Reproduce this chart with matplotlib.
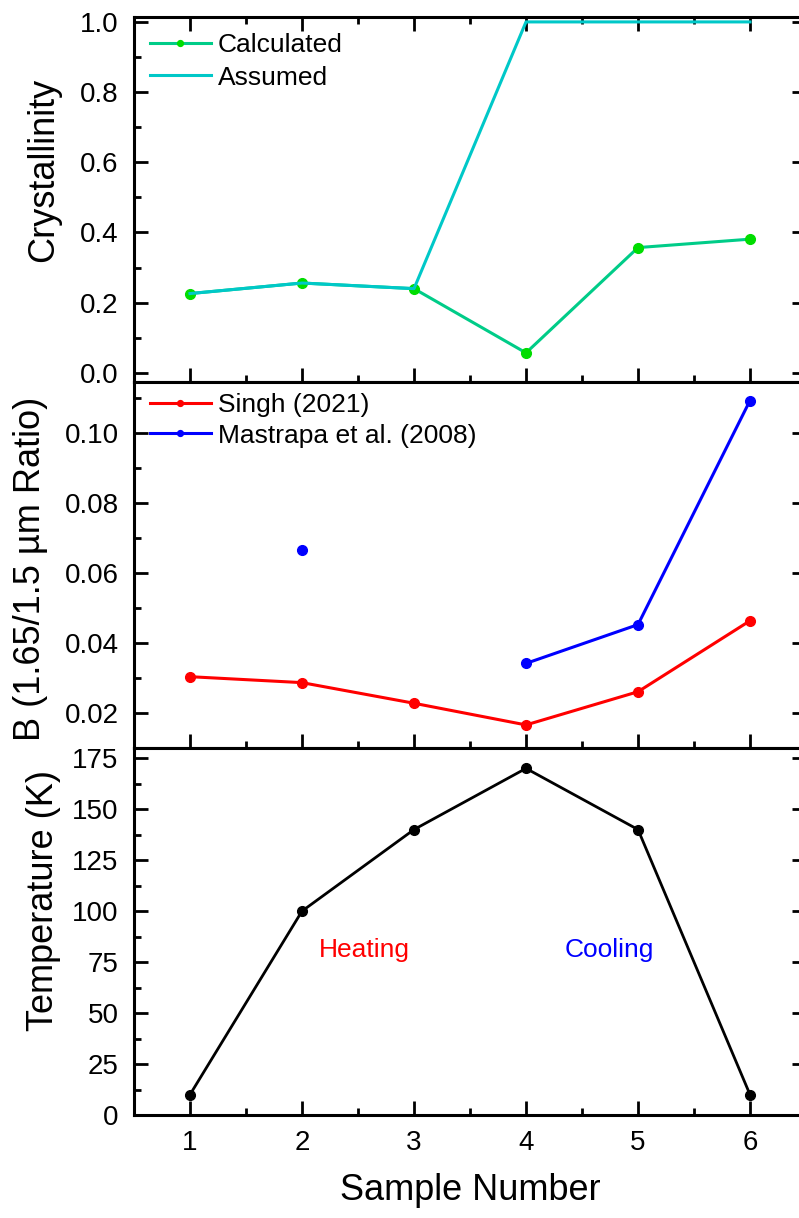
import numpy as np
import matplotlib.pyplot as plt
from matplotlib.ticker import MultipleLocator

plt.rcParams['font.family'] = ['Liberation Sans', 'DejaVu Sans']

# sample numbers shared by all three panels
samples = [1, 2, 3, 4, 5, 6]

# crystallinity
calculated = [0.226, 0.256, 0.240, 0.057, 0.357, 0.381]
assumed = [0.226, 0.256, 0.240, 1.0, 1.0, 1.0]

# band depth ratio B
singh_2021 = [0.0304, 0.0287, 0.0228, 0.0166, 0.0261, 0.0464]
mastrapa_2008 = [np.nan, 0.0666, np.nan, 0.0342, 0.0453, 0.1094]

# sample temperature
temperature = [10, 100, 140, 170, 140, 10]

fig = plt.figure(figsize=(7.99, 12.18), dpi=100)
W = 672 / 799
ax1 = fig.add_axes([134 / 799, 1 - 382 / 1218, W, 365 / 1218])
ax2 = fig.add_axes([134 / 799, 1 - 748 / 1218, W, 366 / 1218])
ax3 = fig.add_axes([134 / 799, 1 - 1115 / 1218, W, 367 / 1218])

lw = 2.2
ms = 7

# top: crystallinity
ax1.plot(samples, calculated, '-', color='#00CC88', lw=lw, marker='o', ms=ms,
         mfc='#00DD00', mec='#00DD00', label='Calculated')
ax1.plot(samples, assumed, '-', color='#00C8C8', lw=lw, label='Assumed')
ax1.set_ylim(-0.026, 1.014)
ax1.yaxis.set_major_locator(MultipleLocator(0.2))
ax1.yaxis.set_minor_locator(MultipleLocator(0.1))
ax1.set_ylabel('Crystallinity', fontsize=26)
ax1.legend(loc='upper left', bbox_to_anchor=(16 / 672, 1 - 16 / 365), frameon=False,
           fontsize=19, borderpad=0, borderaxespad=0, handlelength=2.3,
           handletextpad=0.27, labelspacing=0.33, markerscale=0.6)

# middle: B ratio
ax2.plot(samples, singh_2021, '-', color='#FF0000', lw=lw, marker='o', ms=ms,
         mfc='#FF0000', mec='#FF0000', label='Singh (2021)')
ax2.plot(samples, mastrapa_2008, '-', color='#0000FF', lw=lw, marker='o', ms=ms,
         mfc='#0000FF', mec='#0000FF', label='Mastrapa et al. (2008)')
ax2.set_ylim(0.01, 0.1147)
ax2.yaxis.set_major_locator(MultipleLocator(0.02))
ax2.yaxis.set_minor_locator(MultipleLocator(0.01))
ax2.set_ylabel('B (1.65/1.5 µm Ratio)', fontsize=26)
ax2.legend(loc='upper left', bbox_to_anchor=(16 / 672, 1 - 11 / 366), frameon=False,
           fontsize=19, borderpad=0, borderaxespad=0, handlelength=2.3,
           handletextpad=0.27, labelspacing=0.25, markerscale=0.6)

# bottom: temperature
ax3.plot(samples, temperature, '-', color='black', lw=2.0, marker='o', ms=ms,
         mfc='black', mec='black')
ax3.set_ylim(0, 180)
ax3.yaxis.set_major_locator(MultipleLocator(25))
ax3.yaxis.set_minor_locator(MultipleLocator(12.5))
ax3.set_ylabel('Temperature (K)', fontsize=26)
ax3.set_xlabel('Sample Number', fontsize=26, labelpad=12)
ax3.text(2.56, 81, 'Heating', color='#FF0000', fontsize=19, ha='center', va='center')
ax3.text(4.74, 81, 'Cooling', color='#0000FF', fontsize=19, ha='center', va='center')

for ax in (ax1, ax2, ax3):
    ax.set_xlim(0.5, 6.5)
    ax.xaxis.set_major_locator(MultipleLocator(1))
    ax.xaxis.set_minor_locator(MultipleLocator(0.5))
    for s in ax.spines.values():
        s.set_linewidth(2.2)
    ax.tick_params(which='both', direction='in', width=2, labelsize=20, pad=11,
                   left=True, right=True, bottom=True, top=(ax is ax1))
    ax.tick_params(which='major', length=10)
    ax.tick_params(which='minor', length=5)
    if ax is not ax3:
        ax.tick_params(axis='x', labelbottom=False)

# y labels sit a little above the panel centres
ax1.yaxis.set_label_coords(-0.109, 0.58)
ax2.yaxis.set_label_coords(-0.128, 0.49)
ax3.yaxis.set_label_coords(-0.109, 0.585)

fig.savefig('out.png', dpi=100)
